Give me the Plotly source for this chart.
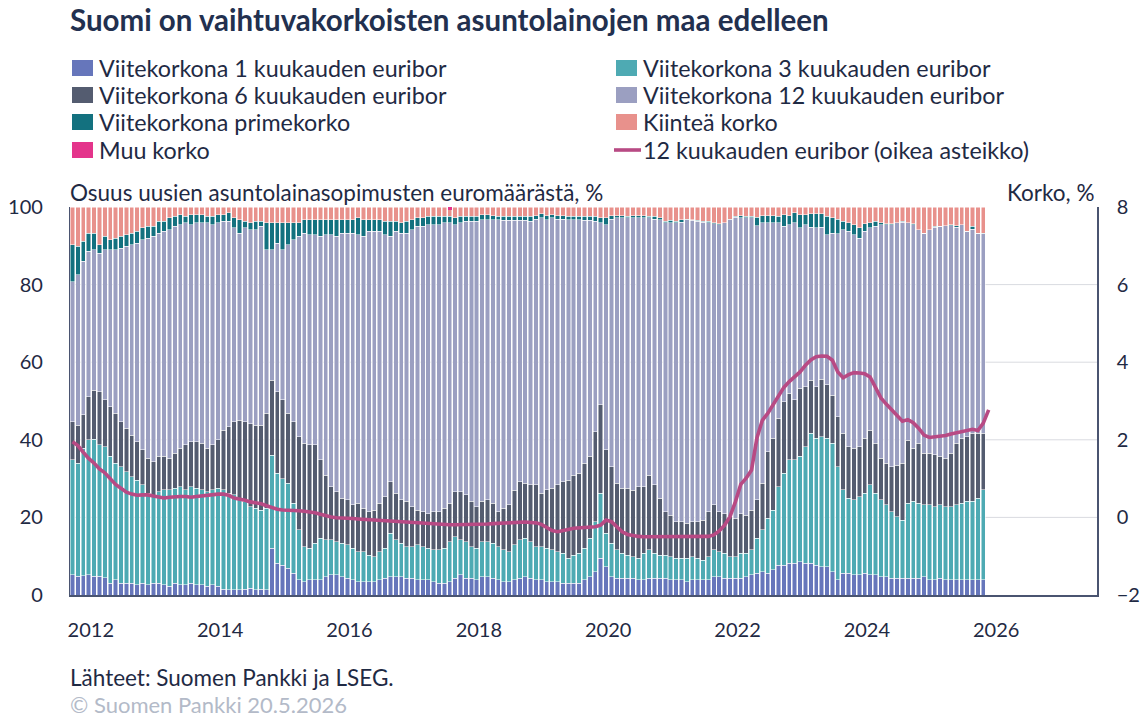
import plotly.graph_objects as go

# ---- data (monthly, index 0 = first month shown) ----
m1 = [5.2,4.8,5.0,5.2,4.8,4.8,4.4,3.0,3.9,3.0,3.0,3.0,2.6,3.0,2.6,3.0,3.0,2.6,2.2,3.0,
      2.6,2.6,3.0,2.6,2.6,2.2,2.6,2.2,1.5,1.3,1.3,1.3,1.5,1.7,1.3,1.5,1.3,12.0,8.2,7.7,
      6.9,5.6,3.9,3.4,3.9,3.9,3.9,4.7,5.2,5.2,4.7,4.3,3.9,3.4,3.4,3.4,3.4,3.9,4.3,4.7,
      4.7,4.7,4.3,4.3,3.9,3.9,3.9,3.4,3.0,3.0,3.4,4.3,5.2,4.3,4.3,3.9,4.7,4.7,4.3,3.9,
      3.4,3.4,3.9,4.3,4.7,4.3,3.9,3.9,3.4,3.4,3.4,3.0,3.0,3.0,3.0,3.9,4.7,6.0,9.5,7.3,
      4.7,4.3,4.3,4.3,4.3,3.9,3.9,4.3,4.3,4.3,4.3,3.9,3.9,3.9,3.4,3.9,3.9,3.9,3.9,4.7,
      4.7,4.3,4.3,4.3,4.3,4.7,5.2,5.6,6.0,5.6,6.5,7.7,7.7,8.2,8.2,8.6,8.2,8.2,7.7,7.3,
      7.3,6.0,3.9,5.6,5.6,5.2,5.2,5.6,5.2,5.2,4.7,4.7,4.3,4.3,4.3,4.3,4.3,4.3,4.7,3.9,
      3.9,4.3,3.9,3.9,3.9,3.9,3.9,3.9,3.9,3.9]
m3 = [29.6,29.1,32.8,34.8,35.3,33.9,33.8,32.7,30.0,30.1,28.8,27.5,27.0,25.4,23.6,22.3,23.6,24.5,24.9,24.5,
      25.3,24.5,24.9,24.9,24.5,24.4,24.5,25.3,25.6,24.9,24.5,23.6,22.6,21.1,21.0,20.4,21.0,24.0,23.2,22.3,
      21.9,18.0,12.9,9.1,8.1,9.4,10.7,9.5,9.0,8.5,8.6,8.6,8.1,7.8,7.8,6.9,6.5,7.3,7.7,11.2,
      9.5,8.6,8.2,8.2,9.0,8.6,8.1,8.2,8.6,9.0,10.3,10.7,9.0,9.4,8.2,8.1,9.0,9.0,9.0,8.6,
      8.2,7.8,9.0,9.9,9.9,9.4,8.6,8.6,8.6,8.2,7.8,7.7,6.5,7.3,7.7,8.1,9.9,12.9,16.7,8.6,
      8.6,7.3,6.4,6.0,5.6,5.6,6.8,7.3,6.4,6.0,6.0,6.0,5.6,5.6,6.1,6.0,5.6,5.1,6.0,6.9,
      6.5,6.4,5.6,5.6,6.4,6.0,6.4,9.0,10.8,14.2,15.4,20.2,23.7,26.6,26.6,27.1,30.0,33.5,32.7,33.5,
      33.1,33.1,29.2,21.5,19.3,19.3,20.1,20.6,23.2,21.0,19.8,18.5,17.2,15.9,15.0,19.3,19.8,19.3,18.5,19.3,
      18.9,18.9,18.9,18.9,19.3,19.7,20.2,20.2,21.0,23.2]
m6 = [9.9,9.9,8.6,11.1,12.7,13.7,12.1,12.8,12.9,11.6,11.2,10.7,9.9,9.0,9.0,9.1,9.1,8.6,8.1,9.0,
      9.9,11.6,11.6,12.0,12.0,11.2,11.6,12.5,15.4,17.2,18.9,20.2,20.6,21.4,21.5,21.9,24.5,19.4,21.0,20.3,
      18.0,21.1,24.0,26.6,26.7,25.4,20.2,16.7,13.7,12.9,11.6,11.6,11.2,12.4,11.1,11.2,12.0,12.4,13.3,13.3,
      12.0,11.2,11.6,10.3,9.0,9.0,9.0,9.9,9.9,10.3,9.9,11.6,12.4,12.1,11.6,10.8,10.4,10.8,10.3,9.0,
      10.7,12.0,14.1,15.0,14.2,14.7,15.9,13.7,15.1,15.9,17.2,18.5,20.1,20.6,20.7,21.9,21.1,23.2,22.8,21.5,
      19.8,17.2,16.8,17.2,17.1,18.4,17.2,19.3,17.7,14.6,11.2,10.7,9.4,9.4,9.0,9.0,9.4,10.3,11.6,11.6,
      10.3,10.3,10.3,9.9,10.3,9.9,10.3,9.9,12.0,17.1,18.5,17.6,18.4,17.2,15.5,17.6,15.5,13.7,13.3,14.8,
      13.8,12.4,12.9,14.6,13.3,13.3,12.9,14.2,14.1,12.9,10.7,10.7,11.6,13.3,14.7,16.3,13.7,15.5,13.3,13.3,
      13.3,12.5,12.4,13.7,15.9,16.8,16.7,17.6,16.8,14.6]
m12 = [36.1,38.7,39.6,37.5,36.2,35.7,38.7,40.5,42.2,44.7,46.9,49.1,51.2,54.2,56.8,58.0,57.6,58.0,59.0,58.5,
       57.6,57.2,55.9,56.4,56.8,58.1,56.7,55.9,53.8,52.9,49.9,48.2,49.9,50.0,50.4,51.2,42.2,33.6,38.3,38.7,
       43.5,46.9,51.6,54.2,54.2,54.2,57.6,62.0,65.0,65.8,68.4,68.8,70.1,69.3,70.1,72.2,71.8,70.1,67.6,63.2,
       67.5,68.8,69.2,71.4,73.1,73.5,74.4,73.9,73.9,73.6,72.3,68.8,69.3,70.5,72.2,73.5,72.6,72.2,73.1,75.2,
       74.3,73.4,69.6,67.4,67.8,67.9,68.5,71.0,69.6,69.7,68.5,67.7,67.1,65.8,65.3,62.7,60.9,54.2,46.9,58.0,
       63.8,68.4,69.7,69.7,70.2,69.3,69.3,66.3,68.5,71.8,74.4,75.4,77.1,77.2,78.2,77.7,77.4,76.8,74.5,72.5,
       73.9,74.9,76.5,77.6,76.2,76.6,75.3,70.7,67.2,59.1,55.5,50.4,45.2,43.4,45.6,41.3,41.7,39.4,40.9,39.2,
       38.7,41.8,47.1,52.5,55.5,55.1,53.8,53.3,52.1,55.9,60.2,61.5,62.3,62.5,62.1,56.1,57.6,55.1,56.8,57.7,
       58.7,59.3,60.0,58.7,55.7,55.0,52.9,52.6,51.6,51.4]
prime = [9.5,7.4,5.2,4.7,4.3,2.2,3.4,2.6,3.0,3.0,3.0,3.0,3.0,3.0,3.0,2.6,3.0,2.6,3.0,2.6,
         2.6,1.7,2.6,2.1,2.1,1.7,2.2,2.1,1.7,2.2,2.6,3.4,1.7,1.7,2.1,1.3,6.9,6.9,5.2,6.9,
         5.6,4.3,3.5,3.4,3.8,3.8,4.3,3.8,3.8,4.3,3.4,3.4,3.4,4.3,4.3,3.0,3.0,3.0,3.4,3.9,
         2.6,2.6,3.0,2.5,2.2,2.2,2.2,2.2,2.2,1.7,1.7,1.8,1.7,1.3,1.3,1.3,1.3,1.3,1.1,0.9,
         1.0,1.0,1.0,1.0,1.0,1.3,0.9,1.0,1.1,0.8,0.9,0.9,0.9,0.9,0.9,1.0,1.0,1.3,1.3,1.8,
         0.9,0.6,0.6,0.4,0.6,0.6,0.6,0.4,0.7,0.5,0.4,0.6,0.3,0.6,0.2,0.1,0.3,0.2,0.3,0.3,
         0.3,0.1,0.2,0.2,0.6,0.4,0.4,2.2,1.8,1.8,1.9,1.7,3.0,2.4,2.6,3.4,2.6,3.4,3.6,3.4,
         4.7,3.9,3.8,2.1,2.3,2.5,2.6,2.0,1.4,1.3,0.6,0.3,0.3,0.0,0.2,0.0,0.3,0.0,0.0,0.0,
         0.2,0.0,0.0,0.2,0.4,0.0,0.0,0.7,0.0,0.2]
fixed = [9.7,10.1,8.8,6.7,6.7,9.7,7.6,8.4,8.0,7.6,7.1,6.7,6.3,5.4,5.0,5.0,3.7,3.7,2.8,2.4,
         2.0,2.4,2.0,2.0,2.0,2.4,2.4,2.0,2.0,1.5,2.8,3.3,3.7,4.1,3.7,3.7,4.1,4.1,4.1,4.1,
         4.1,4.1,4.1,3.3,3.3,3.3,3.3,3.3,3.3,3.3,3.3,3.3,3.3,2.8,3.3,3.3,3.3,3.3,3.7,3.7,
         3.7,4.1,3.7,3.3,2.8,2.8,2.4,2.4,2.4,2.4,1.7,2.8,2.4,2.4,2.4,2.4,2.0,2.0,2.2,2.4,
         2.4,2.4,2.4,2.4,2.4,2.4,2.2,1.8,2.2,2.0,2.2,2.2,2.4,2.4,2.4,2.4,2.4,2.4,2.8,2.8,
         2.2,2.2,2.2,2.4,2.2,2.2,2.2,2.4,2.4,2.8,3.7,3.4,3.7,3.3,3.1,3.3,3.4,3.7,3.7,4.0,
         4.3,4.0,3.1,2.4,2.2,2.4,2.4,2.6,2.2,2.2,2.2,2.4,2.0,2.2,1.5,2.0,2.0,1.8,1.8,1.8,
         2.4,2.8,3.1,3.7,4.0,4.6,5.4,4.3,4.0,3.7,4.0,4.3,4.3,4.0,3.7,4.0,4.3,5.8,6.7,5.8,
         5.0,5.0,4.8,4.6,4.8,4.6,6.3,5.0,6.7,6.7]
muu_month = [70]
muu = [0.7]
euribor = [1.95,1.85,1.68,1.52,1.40,1.25,1.15,1.00,0.85,0.75,0.65,0.60,
           0.57,0.58,0.58,0.55,0.52,0.50,0.52,0.54,0.54,0.54,0.52,0.54,
           0.56,0.56,0.58,0.60,0.60,0.57,0.50,0.48,0.44,0.40,0.38,0.35,
           0.30,0.25,0.21,0.19,0.19,0.18,0.17,0.16,0.15,0.12,0.08,0.04,
           0.01,-0.01,-0.01,-0.02,-0.03,-0.04,-0.05,-0.06,-0.07,-0.08,-0.09,-0.10,
           -0.11,-0.12,-0.13,-0.14,-0.15,-0.16,-0.17,-0.18,-0.19,-0.19,-0.19,-0.19,
           -0.19,-0.19,-0.18,-0.18,-0.17,-0.17,-0.16,-0.15,-0.15,-0.14,-0.13,-0.12,
           -0.12,-0.13,-0.14,-0.18,-0.25,-0.34,-0.37,-0.35,-0.31,-0.28,-0.27,-0.27,
           -0.26,-0.24,-0.20,-0.07,-0.11,-0.24,-0.37,-0.44,-0.47,-0.49,-0.50,-0.50,
           -0.50,-0.50,-0.49,-0.48,-0.48,-0.48,-0.49,-0.50,-0.49,-0.48,-0.49,-0.45,
           -0.35,-0.20,0.02,0.40,0.85,1.01,1.22,2.05,2.50,2.68,2.90,3.15,
           3.35,3.50,3.62,3.75,3.92,4.06,4.14,4.16,4.15,4.05,3.75,3.60,
           3.68,3.73,3.72,3.70,3.62,3.35,3.08,2.92,2.77,2.62,2.48,2.52,
           2.44,2.30,2.12,2.06,2.07,2.08,2.11,2.15,2.18,2.22,2.25,2.27,
           2.24,2.43,2.77]
year_labels = ["2012", "2014", "2016", "2018", "2020", "2022", "2024", "2026"]
year_label_month = [3.4, 27.4, 51.4, 75.4, 99.4, 123.4, 147.4, 171.4]

months = list(range(len(m1)))
months_line = list(range(len(euribor)))

# ---- styles / geometry ----
FONT = "Lato"
TXT = "#1f2a44"
AXIS = "#4a5470"
W, H = 1146, 718
L, R, T, B = 70, 49, 207, 123
PW, PH = W - L - R, H - T - B


def px(xp):
    return (xp - L) / PW


def py(yp):
    return (H - B - yp) / PH


NAMES = ["Viitekorkona 1 kuukauden euribor", "Viitekorkona 3 kuukauden euribor",
         "Viitekorkona 6 kuukauden euribor", "Viitekorkona 12 kuukauden euribor",
         "Viitekorkona primekorko", "Kiinteä korko", "Muu korko",
         "12 kuukauden euribor (oikea asteikko)"]
COLORS = ["#6676bb", "#4eaab3", "#545c70", "#9b9fc1", "#13717f", "#e8918c", "#e4348b", "#b84a84"]
values = [m1, m3, m6, m12, prime, fixed]

fig = go.Figure()
for name, vals, col in zip(NAMES[:6], values, COLORS[:6]):
    fig.add_trace(go.Bar(x=months, y=vals, name=name, marker_color=col,
                         marker_line_color="white", marker_line_width=0.5))
fig.add_trace(go.Bar(x=muu_month, y=muu, name=NAMES[6], marker_color=COLORS[6],
                     marker_line_width=0))
fig.add_trace(go.Scatter(x=months_line, y=euribor, name=NAMES[7],
                         mode="lines", line=dict(color=COLORS[7], width=3.6), yaxis="y2"))

for g in [20, 40, 60, 80]:
    fig.add_shape(type="line", xref="paper", x0=0, x1=1, yref="y", y0=g, y1=g,
                  line=dict(color="#d9dbe0", width=1), layer="below")

# manual two-column legend
row_y = [68, 95, 122, 150]
col_x = [72, 616]
for k, (name, col) in enumerate(zip(NAMES, COLORS)):
    cx = col_x[k % 2]
    cy = row_y[k // 2]
    if k < 7:
        fig.add_shape(type="rect", xref="paper", yref="paper",
                      x0=px(cx), x1=px(cx + 21), y0=py(cy + 8), y1=py(cy - 8),
                      fillcolor=col, line_width=0)
    else:
        fig.add_shape(type="line", xref="paper", yref="paper",
                      x0=px(cx - 2), x1=px(cx + 25), y0=py(cy), y1=py(cy),
                      line=dict(color=col, width=3.6))
    fig.add_annotation(text=name, xref="paper", yref="paper", x=px(cx + 25), y=py(cy),
                       xanchor="left", yanchor="middle", showarrow=False,
                       font=dict(size=23.3, color=TXT))

fig.update_layout(
    width=W, height=H,
    margin=dict(l=L, r=R, t=T, b=B, autoexpand=False),
    paper_bgcolor="white", plot_bgcolor="white",
    barmode="stack", bargap=0.18,
    font=dict(family=FONT, size=20, color=TXT),
    showlegend=False,
    xaxis=dict(range=[-0.46, 190.1], tickvals=year_label_month, ticktext=year_labels,
               showgrid=False, zeroline=False, showline=True, linecolor=AXIS, linewidth=1.5,
               ticks="", ticklabelstandoff=16, automargin=False,
               tickfont=dict(size=20, color=TXT)),
    yaxis=dict(range=[0, 100], tickvals=[0, 20, 40, 60, 80, 100], showgrid=False,
               zeroline=False, showline=True, linecolor=AXIS, linewidth=1.2, ticks="",
               ticklabelstandoff=22, automargin=False, tickfont=dict(size=20, color=TXT)),
    yaxis2=dict(range=[-2, 8], tickvals=[-2, 0, 2, 4, 6, 8], overlaying="y", side="right",
                showgrid=False, zeroline=False, showline=True, linecolor=AXIS, linewidth=1.5,
                ticks="", ticklabelstandoff=14, automargin=False,
                tickfont=dict(size=20, color=TXT)),
)

fig.add_annotation(text="<b>Suomi on vaihtuvakorkoisten asuntolainojen maa edelleen</b>",
                   xref="paper", yref="paper", x=px(68), y=py(20), xanchor="left",
                   yanchor="middle", showarrow=False,
                   font=dict(size=29.5, color="#22304f", family=FONT))
fig.add_annotation(text="Osuus uusien asuntolainasopimusten euromäärästä, %",
                   xref="paper", yref="paper", x=px(68), y=py(193), xanchor="left",
                   yanchor="middle", showarrow=False, font=dict(size=22.5, color=TXT))
fig.add_annotation(text="Korko, %", xref="paper", yref="paper", x=px(1096), y=py(193),
                   xanchor="right", yanchor="middle", showarrow=False,
                   font=dict(size=22.5, color=TXT))
fig.add_annotation(text="Lähteet: Suomen Pankki ja LSEG.", xref="paper", yref="paper",
                   x=px(68), y=py(677), xanchor="left", yanchor="middle", showarrow=False,
                   font=dict(size=22.5, color=TXT))
fig.add_annotation(text="© Suomen Pankki 20.5.2026", xref="paper", yref="paper",
                   x=px(68), y=py(704), xanchor="left", yanchor="middle", showarrow=False,
                   font=dict(size=22, color="#b3bac8"))

fig.write_html("out.html", config={"displayModeBar": False},
               post_script="document.body.style.margin='0';document.body.style.overflow='hidden';")
